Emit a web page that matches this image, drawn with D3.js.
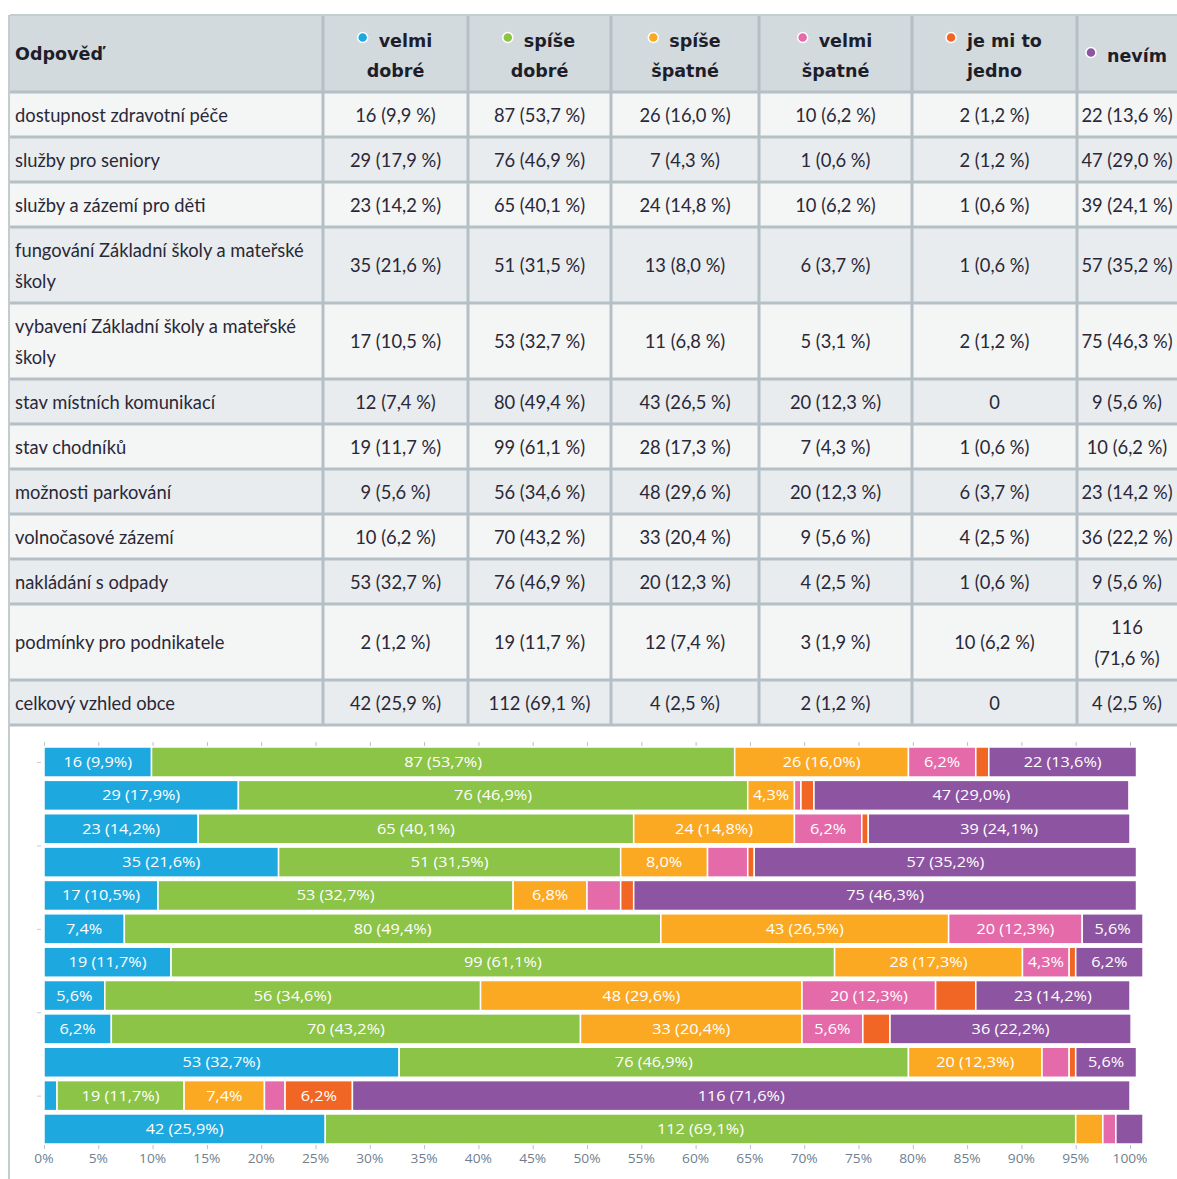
<!DOCTYPE html>
<html>
<head>
<meta charset="utf-8">
<script src="https://cdn.jsdelivr.net/npm/d3@7"></script>
<style>
  body { margin: 0; background: #fff; }
</style>
</head>
<body>
<div class="canvas"></div>
<script>
// data
const categories = [
  "dostupnost zdravotní péče",
  "služby pro seniory",
  "služby a zázemí pro děti",
  "fungování Základní školy a mateřské školy",
  "vybavení Základní školy a mateřské školy",
  "stav místních komunikací",
  "stav chodníků",
  "možnosti parkování",
  "volnočasové zázemí",
  "nakládání s odpady",
  "podmínky pro podnikatele",
  "celkový vzhled obce"
];
const seriesLabels = [["velmi", "dobré"], ["spíše", "dobré"], ["spíše", "špatné"], ["velmi", "špatné"], ["je mi to", "jedno"], ["nevím"]];
const seriesColors = ["#1ea8e0", "#8bc447", "#fba922", "#e46aa9", "#f16624", "#8d54a1"];

const velmiDobre = [16, 29, 23, 35, 17, 12, 19, 9, 10, 53, 2, 42];
const velmiDobrePct = [9.9, 17.9, 14.2, 21.6, 10.5, 7.4, 11.7, 5.6, 6.2, 32.7, 1.2, 25.9];
const spiseDobre = [87, 76, 65, 51, 53, 80, 99, 56, 70, 76, 19, 112];
const spiseDobrePct = [53.7, 46.9, 40.1, 31.5, 32.7, 49.4, 61.1, 34.6, 43.2, 46.9, 11.7, 69.1];
const spiseSpatne = [26, 7, 24, 13, 11, 43, 28, 48, 33, 20, 12, 4];
const spiseSpatnePct = [16.0, 4.3, 14.8, 8.0, 6.8, 26.5, 17.3, 29.6, 20.4, 12.3, 7.4, 2.5];
const velmiSpatne = [10, 1, 10, 6, 5, 20, 7, 20, 9, 4, 3, 2];
const velmiSpatnePct = [6.2, 0.6, 6.2, 3.7, 3.1, 12.3, 4.3, 12.3, 5.6, 2.5, 1.9, 1.2];
const jedno = [2, 2, 1, 1, 2, 0, 1, 6, 4, 1, 10, 0];
const jednoPct = [1.2, 1.2, 0.6, 0.6, 1.2, 0, 0.6, 3.7, 2.5, 0.6, 6.2, 0];
const nevim = [22, 47, 39, 57, 75, 9, 10, 23, 36, 9, 116, 4];
const nevimPct = [13.6, 29.0, 24.1, 35.2, 46.3, 5.6, 6.2, 14.2, 22.2, 5.6, 71.6, 2.5];

const xTicks = d3.range(0, 101, 5);

const counts = [velmiDobre, spiseDobre, spiseSpatne, velmiSpatne, jedno, nevim];
const pcts = [velmiDobrePct, spiseDobrePct, spiseSpatnePct, velmiSpatnePct, jednoPct, nevimPct];
const keys = d3.range(seriesLabels.length);

const rows = categories.map((name, i) => ({
  name,
  counts: counts.map(s => s[i]),
  pcts: pcts.map(s => s[i])
}));

// formatting (czech decimal comma, no break before %)
const fmtPct = v => v.toFixed(1).replace(".", ",");
const cellText = (c, p) => (c === 0 ? "0" : `${c} (${fmtPct(p)}\u00a0%)`);

// dimensions
const W = 1177, H = 1179;
const colX = [10, 323, 468, 611, 759, 912, 1077, W];
const tableTop = 15, headH = 77;
const lineH = 31;

const svg = d3
  .select(".canvas")
  .append("svg")
  .attr("width", W)
  .attr("height", H)
  .style("display", "block");

// text styles; the picture uses condensed faces, so each style gets a
// horizontal squeeze measured against a sample from the reference
const styles = {
  body: { family: "Lato, 'Open Sans', sans-serif", size: 20, weight: "normal", fill: "#2a2838", sample: "dostupnost zdravotní péče", target: 213 },
  head: { family: "'DejaVu Sans', sans-serif", size: 18, weight: "bold", fill: "#1e1e2a", sample: "Odpověď", target: 88 },
  bar: { family: "'Open Sans', Lato, sans-serif", size: 15, weight: "normal", fill: "#fff", sample: "87 (53,7%)", target: 78 },
  tick: { family: "'Open Sans', Lato, sans-serif", size: 12, weight: "normal", fill: "#6f7f90", sample: "100%", target: 35 }
};

const measurer = svg.append("text").attr("visibility", "hidden");
const rawWidth = (str, st) =>
  measurer
    .attr("font-family", st.family)
    .attr("font-size", st.size)
    .attr("font-weight", st.weight)
    .text(str)
    .node()
    .getComputedTextLength();
Object.values(styles).forEach(st => {
  st.sx = st.target / rawWidth(st.sample, st);
});
const textWidth = (str, st) => rawWidth(str, st) * st.sx;

const addText = (g, x, y, str, st, anchor = "start") =>
  g
    .append("text")
    .attr("transform", `translate(${x},${y}) scale(${st.sx},1)`)
    .attr("text-anchor", anchor)
    .attr("font-family", st.family)
    .attr("font-size", st.size)
    .attr("font-weight", st.weight)
    .attr("fill", st.fill)
    .text(str);

const wrap = (text, width, st) => {
  const words = text.split(" ");
  const lines = [];
  let line = "";
  words.forEach(w => {
    const test = line ? line + " " + w : w;
    if (textWidth(test, st) > width && line) {
      lines.push(line);
      line = w;
    } else line = test;
  });
  lines.push(line);
  return lines;
};

// ---------- table ----------
const table = svg.append("g");

// layout rows from wrapped text
let yPos = tableTop + headH;
rows.forEach(r => {
  r.nameLines = wrap(r.name, colX[1] - colX[0] - 10, styles.body);
  r.cellLines = r.counts.map((c, k) => wrap(cellText(c, r.pcts[k]), colX[k + 2] - colX[k + 1] - 7, styles.body));
  const n = Math.max(r.nameLines.length, ...r.cellLines.map(l => l.length));
  r.y = yPos;
  r.h = 14 + n * lineH;
  yPos += r.h;
});
const tableBottom = yPos;

// header background
table
  .append("rect")
  .attr("x", colX[0])
  .attr("y", tableTop)
  .attr("width", W - colX[0])
  .attr("height", headH)
  .attr("fill", "#d2dadd");

// body backgrounds
table
  .selectAll(".rowbg")
  .data(rows)
  .enter()
  .append("rect")
  .attr("class", "rowbg")
  .attr("x", colX[0])
  .attr("y", d => d.y)
  .attr("width", W - colX[0])
  .attr("height", d => d.h)
  .attr("fill", (d, i) => (i % 2 ? "#e8ecee" : "#f4f5f5"));

// header labels
const head = table.append("g");
addText(head, colX[0] + 5, tableTop + headH / 2 + 6, "Odpověď", styles.head);

seriesLabels.forEach((lab, k) => {
  const cx = (colX[k + 1] + colX[k + 2]) / 2;
  const n = lab.length;
  lab.forEach((t, j) => {
    const ty = tableTop + headH / 2 + 8 + (j - (n - 1) / 2) * 30;
    if (j === 0) {
      const bw = textWidth(t, styles.head);
      addText(head, cx + 10, ty, t, styles.head, "middle");
      head
        .append("circle")
        .attr("cx", cx + 10 - bw / 2 - 16)
        .attr("cy", ty - 9)
        .attr("r", 5)
        .attr("fill", seriesColors[k])
        .attr("stroke", "#fff")
        .attr("stroke-width", 1.5);
    } else {
      addText(head, cx, ty, t, styles.head, "middle");
    }
  });
});

// body texts
const body = table.append("g");
rows.forEach(r => {
  const mid = r.y + r.h / 2;
  const block = (lines, x, anchor) => {
    lines.forEach((t, j) => {
      addText(body, x, mid + 7 + (j - (lines.length - 1) / 2) * lineH, t, styles.body, anchor);
    });
  };
  block(r.nameLines, colX[0] + 5, "start");
  r.cellLines.forEach((lines, k) => {
    block(lines, (colX[k + 1] + colX[k + 2]) / 2, "middle");
  });
});

// grid lines
const grid = table.append("g").attr("stroke", "#b4c0c5").attr("stroke-width", 3);
grid
  .selectAll(".v")
  .data(colX.slice(1, 7))
  .enter()
  .append("line")
  .attr("x1", d => d)
  .attr("x2", d => d)
  .attr("y1", tableTop)
  .attr("y2", tableBottom);
grid
  .selectAll(".h")
  .data([tableTop + headH, ...rows.map(r => r.y + r.h)])
  .enter()
  .append("line")
  .attr("x1", colX[0])
  .attr("x2", W)
  .attr("y1", d => d)
  .attr("y2", d => d);
table
  .append("line")
  .attr("x1", colX[0])
  .attr("x2", W)
  .attr("y1", tableTop)
  .attr("y2", tableTop)
  .attr("stroke", "#c3cdd0")
  .attr("stroke-width", 2);
// left border continues along the chart panel
svg
  .append("line")
  .attr("x1", colX[0] - 1)
  .attr("x2", colX[0] - 1)
  .attr("y1", tableTop)
  .attr("y2", H)
  .attr("stroke", "#c3cdd0")
  .attr("stroke-width", 2);

// ---------- stacked bar chart ----------
const x = d3.scaleLinear().domain([0, 100]).range([44, 1130]);
const y = d3
  .scaleBand()
  .domain(d3.range(rows.length))
  .range([747, 1144])
  .paddingInner(0.1);

const stack = d3.stack().keys(keys).value((d, k) => d.pcts[k]);
const layers = stack(rows);

const chart = svg.append("g");

const layerG = chart
  .selectAll(".layer")
  .data(layers)
  .enter()
  .append("g")
  .attr("fill", d => seriesColors[d.key]);

layerG
  .selectAll("rect")
  .data(d => d.map((s, i) => ({ s, i, key: d.key })).filter(d => d.s[1] - d.s[0] > 0))
  .enter()
  .append("rect")
  .attr("x", d => x(d.s[0]))
  .attr("y", d => y(d.i))
  .attr("width", d => x(d.s[1]) - x(d.s[0]))
  .attr("height", y.bandwidth())
  .attr("stroke", "#fff")
  .attr("stroke-width", 1.5);

// labels inside segments
const labelText = d => {
  const p = rows[d.i].pcts[d.key];
  const c = rows[d.i].counts[d.key];
  if (p >= 9) return `${c} (${fmtPct(p)}%)`;
  if (p >= 4) return `${fmtPct(p)}%`;
  return "";
};

layerG.each(function(layer) {
  const g = d3.select(this);
  layer.forEach((s, i) => {
    const t = labelText({ i, key: layer.key });
    if (!t) return;
    addText(g, (x(s[0]) + x(s[1])) / 2, y(i) + y.bandwidth() / 2 + 5, t, styles.bar, "middle");
  });
});

// axes
const axTop = chart
  .append("g")
  .attr("transform", "translate(0,746)")
  .call(d3.axisTop(x).tickValues(xTicks).tickSize(4).tickFormat(""));
const axBot = chart
  .append("g")
  .attr("transform", "translate(0,1145)")
  .call(d3.axisBottom(x).tickValues(xTicks).tickSize(4).tickFormat(""));
[axTop, axBot].forEach(a => {
  a.select(".domain").remove();
  a.selectAll("line").attr("stroke", "#b8c0c8");
});
xTicks.forEach(v => addText(axBot, x(v), 18, v + "%", styles.tick, "middle"));

// faint left ticks (row index scale)
const yIdx = d3
  .scaleLinear()
  .domain([0, rows.length - 1])
  .range([y(0) + y.bandwidth() / 2, y(rows.length - 1) + y.bandwidth() / 2]);
const axLeft = chart
  .append("g")
  .attr("transform", "translate(41,0)")
  .call(d3.axisLeft(yIdx).tickValues([0, 2.5, 5, 7.5, 10]).tickSize(4).tickFormat(""));
axLeft.select(".domain").remove();
axLeft.selectAll("line").attr("stroke", "#c4ccd2");
</script>
</body>
</html>
